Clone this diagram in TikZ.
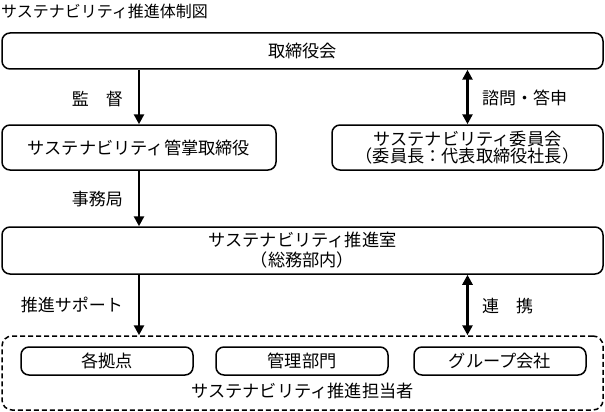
\documentclass[tikz,border=0pt]{standalone}
\usepackage{fontspec}
\setmainfont{Noto Sans CJK JP}
\usetikzlibrary{arrows.meta}
\tikzset{
  box/.style={draw, line width=1.5pt, rounded corners=8pt, inner sep=0pt, align=center,
    font=\fontsize{17.2}{17}\selectfont},
  smallbox/.style={box, minimum width=172pt, minimum height=28pt},
  grp/.style={draw, line width=1.5pt, dash pattern=on 5pt off 3pt, rounded corners=10pt,
    minimum width=601pt, minimum height=74pt, inner sep=0pt},
  lbl/.style={inner sep=0pt, font=\fontsize{17}{17}\selectfont},
  arr/.style={line width=2.5pt, -{Triangle[width=10pt,length=10pt]}},
  darr/.style={line width=2.5pt, {Triangle[width=10pt,length=10pt]}-{Triangle[width=10pt,length=10pt]}},
}
\begin{document}
\begin{tikzpicture}[x=1pt,y=-1pt]
\useasboundingbox (0,0) rectangle (605,412);
\node[anchor=west, inner sep=0pt, font=\fontsize{16}{16}\selectfont] (title) at (1,11) {サステナビリティ推進体制図};
\node[box, minimum width=601pt, minimum height=36pt] (board) at (302.5,51) {取締役会};
\node[box, minimum width=274pt, minimum height=45pt] (officer) at (139,147.5) {サステナビリティ管掌取締役};
\node[box, minimum width=271pt, minimum height=45pt] (committee) at (467.5,147.5) {サステナビリティ委員会\\（委員長：代表取締役社長）};
\node[box, minimum width=601pt, minimum height=47pt, font=\fontsize{17.2}{20}\selectfont] (office) at (302.5,250.5) {サステナビリティ推進室\\（総務部内）};
\node[grp] (group) at (302.5,373) {};
\node[smallbox] (base) at (107,361) {各拠点};
\node[smallbox] (admin) at (302,361) {管理部門};
\node[smallbox] (subs) at (500,361) {グループ会社};
\node[lbl, font=\fontsize{17.2}{17}\selectfont] (grouplbl) at (302.5,391) {サステナビリティ推進担当者};

\draw[arr] (officer.north |- board.south) -- (officer.north);
\draw[arr] (officer.south) -- (officer.south |- office.north);
\draw[arr] (officer.south |- office.south) -- (officer.south |- group.north);
\draw[darr] (committee.north |- board.south) -- (committee.north);
\draw[darr] (committee.north |- office.south) -- (committee.north |- group.north);

\node[lbl, anchor=east] (l1) at (123,99) {監　督};
\node[lbl, anchor=east] (l2) at (123,199) {事務局};
\node[lbl, anchor=east] (l3) at (123,305) {推進サポート};
\node[lbl, anchor=west] (l4) at (482,98) {諮問・答申};
\node[lbl, anchor=west] (l5) at (482,306) {連　携};
\end{tikzpicture}
\end{document}
